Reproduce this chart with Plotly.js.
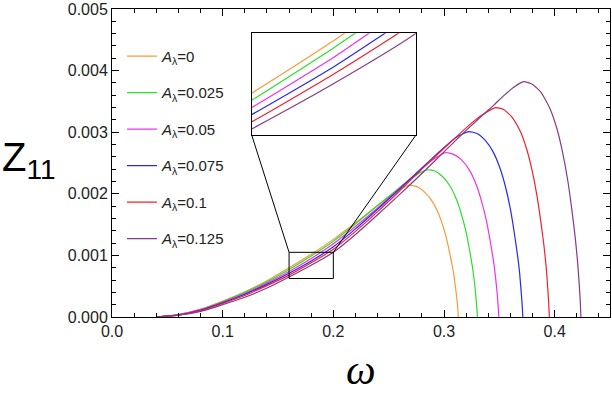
<!DOCTYPE html>
<html>
<head>
<meta charset="utf-8">
<script src="https://cdn.plot.ly/plotly-3.0.1.min.js"></script>
<style>
body { margin: 0; background: #fff; }
#myDiv { width: 612px; height: 398px; }
</style>
</head>
<body>
<div id="myDiv"></div>
<script>
// A_lambda values and colours
var a_labels = ['0', '0.025', '0.05', '0.075', '0.1', '0.125'];
var colors = ['#F99A3A', '#2BE02B', '#F030F0', '#2828F0', '#F02030', '#873A87'];

// Z11(omega)
var w_a0 = [0.04,0.06,0.08,0.10,0.12,0.14,0.16,0.18,0.20,0.22,0.235,0.245,0.255,0.262,0.2685,0.2752,0.2818,0.2885,0.2943,0.2987,0.3027,0.3058,0.3085,0.3102,0.3116,0.3125,0.3129];
var z_a0 = [0,0.00004,0.00013,0.00026,0.00041,0.00059,0.00080,0.00102,0.00126,0.00153,0.00174,0.00188,0.00201,0.00209,0.00214,0.00212,0.00204,0.00190,0.00171,0.00150,0.00124,0.00098,0.00073,0.00051,0.00030,0.00013,0];

var w_a1 = [0.04,0.06,0.08,0.10,0.12,0.14,0.16,0.18,0.20,0.22,0.24,0.255,0.265,0.272,0.278,0.285,0.2918,0.2986,0.3053,0.3112,0.3157,0.3198,0.323,0.3257,0.3275,0.3288,0.3297,0.3302];
var z_a1 = [0,0.00004,0.00012,0.00025,0.00040,0.00057,0.00077,0.00099,0.00123,0.00151,0.00181,0.00203,0.00218,0.00227,0.00234,0.00239,0.00237,0.00228,0.00213,0.00191,0.00167,0.00139,0.00110,0.00081,0.00057,0.00033,0.00014,0];

var w_a2 = [0.04,0.06,0.08,0.10,0.12,0.14,0.16,0.18,0.20,0.22,0.24,0.26,0.275,0.285,0.293,0.3015,0.3087,0.3159,0.3231,0.3293,0.3341,0.3385,0.3418,0.3447,0.3466,0.3481,0.3490,0.3495];
var z_a2 = [0,0.00004,0.00012,0.00024,0.00038,0.00055,0.00074,0.00095,0.00119,0.00147,0.00177,0.00209,0.00233,0.00249,0.00259,0.00267,0.00264,0.00255,0.00238,0.00214,0.00187,0.00155,0.00123,0.00091,0.00064,0.00037,0.00016,0];

var w_a3 = [0.04,0.06,0.08,0.10,0.12,0.14,0.16,0.18,0.20,0.22,0.24,0.26,0.28,0.295,0.305,0.313,0.3225,0.3298,0.3371,0.3444,0.3507,0.3556,0.36,0.3634,0.3663,0.3683,0.3697,0.3707,0.3712];
var z_a3 = [0,0.00003,0.00011,0.00023,0.00037,0.00053,0.00071,0.00091,0.00114,0.00143,0.00175,0.00208,0.00242,0.00267,0.00283,0.00294,0.00301,0.00298,0.00287,0.00268,0.00241,0.00211,0.00175,0.00138,0.00102,0.00072,0.00042,0.00018,0];

var w_a4 = [0.04,0.06,0.08,0.10,0.12,0.14,0.16,0.18,0.20,0.22,0.24,0.26,0.28,0.30,0.315,0.327,0.337,0.3466,0.3539,0.3612,0.3685,0.3748,0.3796,0.384,0.3874,0.3903,0.3923,0.3937,0.3947,0.3952];
var z_a4 = [0,0.00003,0.00010,0.00022,0.00035,0.00051,0.00068,0.00088,0.00110,0.00139,0.00171,0.00205,0.00240,0.00274,0.00299,0.00318,0.00331,0.00340,0.00337,0.00325,0.00303,0.00272,0.00238,0.00197,0.00156,0.00116,0.00082,0.00048,0.00020,0];

var w_a5 = [0.04,0.06,0.08,0.10,0.12,0.14,0.16,0.18,0.20,0.22,0.24,0.26,0.28,0.30,0.32,0.335,0.345,0.355,0.363,0.372,0.3798,0.3875,0.3953,0.402,0.4072,0.4118,0.4154,0.4185,0.4206,0.4222,0.4232,0.4237];
var z_a5 = [0,0.00003,0.00009,0.00020,0.00032,0.00047,0.00065,0.00084,0.00105,0.00134,0.00166,0.00199,0.00233,0.00268,0.00303,0.00328,0.00344,0.00361,0.00373,0.00382,0.00378,0.00365,0.00340,0.00306,0.00267,0.00222,0.00176,0.00130,0.00092,0.00053,0.00023,0];

var w_all = [w_a0, w_a1, w_a2, w_a3, w_a4, w_a5];
var z_all = [z_a0, z_a1, z_a2, z_a3, z_a4, z_a5];

// axis ranges and zoomed window
var x_range = [0, 0.45];
var y_range = [0, 0.005];
var inset_x = [0.16, 0.2];
var inset_y = [0.000625, 0.00105];
var inset_dom_x = [0.2805, 0.6104];
var inset_dom_y = [0.5909, 0.921];

var data = [];
for (var i = 0; i < w_all.length; i++) {
    data.push({
        x: w_all[i], y: z_all[i],
        mode: 'lines',
        line: {color: colors[i], width: 1.2, shape: 'spline', smoothing: 0.5},
        name: '<i>A</i><sub>λ</sub>=' + a_labels[i],
        legendgroup: 'g' + i
    });
}
for (var i = 0; i < w_all.length; i++) {
    data.push({
        x: w_all[i], y: z_all[i],
        xaxis: 'x2', yaxis: 'y2',
        mode: 'lines',
        line: {color: colors[i], width: 1.2, shape: 'spline', smoothing: 0.5},
        showlegend: false,
        hoverinfo: 'skip'
    });
}

var tickfont = {family: 'Liberation Sans, Arial, sans-serif', size: 16, color: '#222'};

var bx0 = inset_x[0] / x_range[1], bx1 = inset_x[1] / x_range[1];
var by1 = inset_y[1] / y_range[1];

var layout = {
    width: 612,
    height: 398,
    margin: {l: 112, r: 2, t: 9, b: 81},
    paper_bgcolor: '#fff',
    plot_bgcolor: '#fff',
    showlegend: true,
    legend: {
        x: 0.02, y: 0.9, xanchor: 'left', yanchor: 'top',
        bgcolor: 'rgba(0,0,0,0)',
        font: {family: 'Liberation Sans, Arial, sans-serif', size: 15, color: '#222'},
        tracegroupgap: 14
    },
    xaxis: {
        range: x_range, tick0: 0, dtick: 0.1, tickformat: '.1f',
        ticks: 'inside', ticklen: 7, tickcolor: '#000',
        minor: {dtick: 0.02, ticks: 'inside', ticklen: 4, tickcolor: '#000'},
        showline: true, linecolor: '#000', linewidth: 1, mirror: 'ticks',
        showgrid: false, zeroline: false, tickfont: tickfont
    },
    yaxis: {
        range: y_range, tick0: 0, dtick: 0.001, tickformat: '.3f',
        ticks: 'inside', ticklen: 7, tickcolor: '#000',
        minor: {dtick: 0.0002, ticks: 'inside', ticklen: 4, tickcolor: '#000'},
        showline: true, linecolor: '#000', linewidth: 1, mirror: 'ticks',
        showgrid: false, zeroline: false, tickfont: tickfont
    },
    xaxis2: {
        domain: inset_dom_x, range: inset_x, anchor: 'y2',
        showticklabels: false, ticks: '', showgrid: false, zeroline: false,
        showline: true, mirror: true, linecolor: '#000', linewidth: 1
    },
    yaxis2: {
        domain: inset_dom_y, range: inset_y, anchor: 'x2',
        showticklabels: false, ticks: '', showgrid: false, zeroline: false,
        showline: true, mirror: true, linecolor: '#000', linewidth: 1
    },
    shapes: [
        {type: 'rect', xref: 'x', yref: 'y', x0: inset_x[0], x1: inset_x[1], y0: inset_y[0], y1: inset_y[1],
         line: {color: '#000', width: 1}},
        {type: 'line', xref: 'paper', yref: 'paper', x0: bx0, y0: by1, x1: inset_dom_x[0], y1: inset_dom_y[0],
         line: {color: '#000', width: 1}},
        {type: 'line', xref: 'paper', yref: 'paper', x0: bx1, y0: by1, x1: inset_dom_x[1], y1: inset_dom_y[0],
         line: {color: '#000', width: 1}}
    ],
    annotations: [
        {text: '<i>ω</i>', xref: 'paper', yref: 'paper', x: 0.5, y: -0.172,
         xanchor: 'center', yanchor: 'middle', showarrow: false,
         font: {family: 'Liberation Serif, Times New Roman, serif', size: 42, color: '#000'}},
        {text: 'Z<sub>11</sub>', xref: 'paper', yref: 'paper', x: -0.224, y: 0.51,
         xanchor: 'left', yanchor: 'middle', showarrow: false,
         font: {family: 'Liberation Sans, Arial, sans-serif', size: 40, color: '#000'}}
    ]
};

Plotly.newPlot('myDiv', data, layout, {displayModeBar: false});
</script>
</body>
</html>
